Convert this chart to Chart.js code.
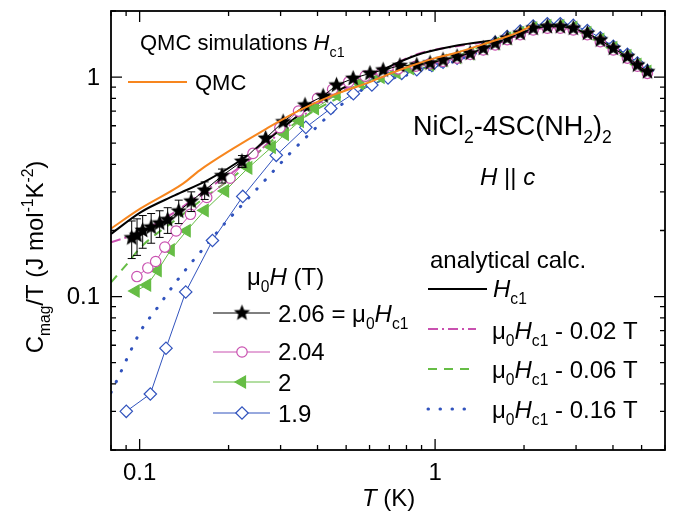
<!DOCTYPE html>
<html>
<head>
<meta charset="utf-8">
<title>NiCl2-4SC(NH2)2 magnetic specific heat</title>
<script src="https://cdn.jsdelivr.net/npm/chart.js@4.4.1/dist/chart.umd.min.js"></script>
<style>
  html, body { margin: 0; padding: 0; background: #fff; }
  canvas { display: block; }
</style>
</head>
<body>
<canvas id="chart" width="679" height="522"></canvas>
<script>
// measured C_mag/T, field mu0H in T
const t206 = [0.094, 0.098, 0.1024, 0.1094, 0.1169, 0.1244, 0.1356, 0.1495, 0.166, 0.190, 0.222, 0.267, 0.306, 0.363, 0.418, 0.464, 0.528, 0.602, 0.667, 0.76, 0.867, 0.962, 1.064, 1.187, 1.314, 1.455, 1.597, 1.754, 1.941, 2.148, 2.398, 2.653, 2.936, 3.275, 3.624, 4.01, 4.476, 4.84, 5.23];
const c206 = [0.185, 0.19, 0.2, 0.207, 0.216, 0.224, 0.245, 0.272, 0.305, 0.355, 0.413, 0.526, 0.625, 0.745, 0.819, 0.919, 0.986, 1.04, 1.076, 1.128, 1.134, 1.158, 1.196, 1.238, 1.283, 1.352, 1.426, 1.502, 1.583, 1.669, 1.697, 1.697, 1.669, 1.583, 1.475, 1.352, 1.238, 1.134, 1.057];
const err206 = [0.036, 0.036, 0.034, 0.032, 0.03, 0.03, 0.03, 0.028, 0.028, 0.026, 0.026];

const t204 = [0.0979, 0.1066, 0.1133, 0.1217, 0.1329, 0.1486, 0.1687, 0.2023, 0.2419, 0.2983, 0.345, 0.40, 0.45, 0.51, 0.58, 0.66, 0.75, 0.86, 0.96, 1.064, 1.187, 1.314, 1.455, 1.597, 1.754, 1.941, 2.148, 2.398, 2.653, 2.936, 3.275, 3.624, 4.01, 4.476, 4.84, 5.23];
const c204 = [0.1234, 0.135, 0.1445, 0.168, 0.199, 0.237, 0.283, 0.346, 0.449, 0.588, 0.70, 0.80, 0.88, 0.95, 1.01, 1.05, 1.09, 1.12, 1.15, 1.18, 1.22, 1.27, 1.33, 1.40, 1.48, 1.56, 1.64, 1.67, 1.67, 1.64, 1.56, 1.45, 1.33, 1.22, 1.12, 1.04];

const t200 = [0.0969, 0.106, 0.1151, 0.1274, 0.1443, 0.166, 0.1946, 0.2332, 0.280, 0.31, 0.3486, 0.392, 0.464, 0.557, 0.654, 0.74, 0.823, 0.96, 1.064, 1.187, 1.314, 1.455, 1.597, 1.754, 1.941, 2.148, 2.398, 2.653, 2.936, 3.275, 3.624, 4.01, 4.476, 4.84, 5.23];
const c200 = [0.106, 0.1129, 0.1315, 0.163, 0.1995, 0.247, 0.303, 0.386, 0.48, 0.55, 0.63, 0.72, 0.83, 0.936, 1.0, 1.05, 1.095, 1.14, 1.19, 1.23, 1.28, 1.35, 1.42, 1.50, 1.59, 1.67, 1.71, 1.71, 1.68, 1.59, 1.48, 1.36, 1.25, 1.14, 1.06];

const t190 = [0.0901, 0.1087, 0.1228, 0.1432, 0.1764, 0.2234, 0.290, 0.3652, 0.4437, 0.529, 0.611, 0.693, 0.771, 0.867, 0.975, 1.064, 1.187, 1.314, 1.455, 1.597, 1.754, 1.941, 2.148, 2.398, 2.653, 2.936, 3.275, 3.624, 4.01, 4.476, 4.84, 5.23];
const c190 = [0.030, 0.036, 0.0582, 0.105, 0.180, 0.286, 0.44, 0.59, 0.72, 0.84, 0.92, 0.99, 1.04, 1.08, 1.13, 1.17, 1.22, 1.28, 1.35, 1.44, 1.53, 1.62, 1.71, 1.75, 1.75, 1.72, 1.63, 1.51, 1.38, 1.27, 1.16, 1.07];

// QMC simulation at Hc1
const tQmc = [0.08, 0.1008, 0.1402, 0.1597, 0.207, 0.269, 0.3486, 0.4517, 0.585, 0.722, 0.822, 1.0, 1.155, 1.5, 1.94, 2.09];
const cQmc = [0.204, 0.252, 0.327, 0.376, 0.472, 0.583, 0.707, 0.828, 0.936, 1.05, 1.12, 1.22, 1.28, 1.43, 1.61, 1.70];

// analytical calculations
const tCalc0 = [0.08, 0.101, 0.1314, 0.170, 0.2198, 0.2717, 0.377, 0.51, 0.588, 0.868, 1.215, 1.45, 1.754, 2.0, 2.4, 2.9, 3.6, 4.5, 5.3];
const cCalc0 = [0.193, 0.2426, 0.289, 0.339, 0.418, 0.52, 0.73, 0.92, 1.0, 1.26, 1.40, 1.45, 1.50, 1.59, 1.70, 1.67, 1.48, 1.24, 1.05];
const tCalc02 = [0.08, 0.1008, 0.1314, 0.170, 0.227, 0.30, 0.40, 0.51, 0.60, 0.868, 1.215, 1.45, 1.754, 2.0, 2.4, 2.9, 3.6, 4.5, 5.3];
const cCalc02 = [0.1766, 0.197, 0.2426, 0.31, 0.404, 0.56, 0.74, 0.90, 1.0, 1.27, 1.39, 1.44, 1.49, 1.58, 1.69, 1.66, 1.47, 1.23, 1.04];
const tCalc06 = [0.08, 0.0911, 0.101, 0.1314, 0.170, 0.22, 0.25, 0.29, 0.377, 0.45, 0.543, 0.668, 0.868, 1.2, 1.5, 1.754, 2.0, 2.4, 2.9, 3.6, 4.5, 5.3];
const cCalc06 = [0.116, 0.142, 0.168, 0.222, 0.289, 0.375, 0.448, 0.532, 0.683, 0.78, 0.872, 0.969, 1.076, 1.22, 1.37, 1.49, 1.59, 1.70, 1.67, 1.48, 1.24, 1.05];
const tCalc16 = [0.08, 0.0855, 0.0911, 0.101, 0.1151, 0.1311, 0.1489, 0.166, 0.1916, 0.227, 0.269, 0.318, 0.382, 0.458, 0.543, 0.62, 0.8, 1.0, 1.3, 1.7, 2.0, 2.4, 2.9, 3.6, 4.5, 5.3];
const cCalc16 = [0.0365, 0.044, 0.053, 0.070, 0.0893, 0.114, 0.1415, 0.168, 0.211, 0.27, 0.345, 0.44, 0.563, 0.707, 0.843, 0.936, 1.02, 1.10, 1.25, 1.44, 1.59, 1.71, 1.69, 1.50, 1.25, 1.06];

const xTickLabels = [0.1, 1];
const yTickLabels = [0.1, 1];

const FONT = '"Liberation Sans", Arial, Helvetica, sans-serif';
const ORANGE = '#f7861e';
const MAGENTA = '#c951b0';
const GREEN = '#66bd45';
const BLUE = '#3153bd';

const pts = (xs, ys) => xs.map((x, i) => ({ x: x, y: ys[i] }));

function starImage(r, color) {
    const c = document.createElement('canvas');
    const s = Math.ceil(r * 2 + 2);
    c.width = c.height = s;
    const g = c.getContext('2d');
    g.fillStyle = color;
    g.beginPath();
    for (let i = 0; i < 10; i++) {
        const a = -Math.PI / 2 + i * Math.PI / 5;
        const rr = i % 2 ? r * 0.45 : r;
        g.lineTo(s / 2 + rr * Math.cos(a), s / 2 + rr * Math.sin(a));
    }
    g.closePath();
    g.fill();
    return c;
}
const star = starImage(8.5, '#000');

// rich text: parts are [text, flags], flags: i = italic, b = subscript, p = superscript
function richWidth(ctx, parts, size) {
    let w = 0;
    parts.forEach(([t, f = '']) => {
        const small = f.includes('b') || f.includes('p');
        ctx.font = (f.includes('i') ? 'italic ' : '') + (small ? size * 0.65 : size) + 'px ' + FONT;
        w += ctx.measureText(t).width;
    });
    return w;
}
function rich(ctx, x, y, parts, size, align) {
    if (align === 'center') x -= richWidth(ctx, parts, size) / 2;
    ctx.textBaseline = 'alphabetic';
    ctx.textAlign = 'left';
    ctx.fillStyle = '#000';
    parts.forEach(([t, f = '']) => {
        const sub = f.includes('b'), sup = f.includes('p');
        ctx.font = (f.includes('i') ? 'italic ' : '') + (sub || sup ? size * 0.65 : size) + 'px ' + FONT;
        const dy = sub ? size * 0.3 : sup ? -size * 0.42 : 0;
        ctx.fillText(t, x, y + dy);
        x += ctx.measureText(t).width;
    });
}

function sample(ctx, x1, x2, y, color, width, dash, cap) {
    ctx.save();
    ctx.strokeStyle = color;
    ctx.lineWidth = width;
    ctx.setLineDash(dash || []);
    ctx.lineCap = cap || 'butt';
    ctx.beginPath();
    ctx.moveTo(x1, y);
    ctx.lineTo(x2, y);
    ctx.stroke();
    ctx.restore();
}

function marker(ctx, ds, x, y) {
    ctx.save();
    ctx.fillStyle = ds.pointBackgroundColor;
    ctx.strokeStyle = ds.pointBorderColor;
    ctx.lineWidth = ds.pointBorderWidth;
    Chart.helpers.drawPoint(ctx, {
        pointStyle: ds.pointStyle,
        radius: ds.pointRadius,
        rotation: ds.pointRotation || 0,
        borderWidth: ds.pointBorderWidth
    }, x, y);
    ctx.restore();
}

function logSteps(min, max) {
    const out = [];
    for (let e = Math.floor(Math.log10(min)); e <= Math.ceil(Math.log10(max)); e++) {
        for (let m = 1; m < 10; m++) {
            const v = m * Math.pow(10, e);
            if (v >= min * 0.999 && v <= max * 1.001) out.push({ v: v, major: m === 1 });
        }
    }
    return out;
}

const figure = {
    id: 'figure',
    afterDatasetsDraw(chart) {
        const ctx = chart.ctx, xs = chart.scales.x, ys = chart.scales.y;
        ctx.save();
        ctx.strokeStyle = '#000';
        ctx.lineWidth = 1;
        err206.forEach((e, i) => {
            const px = xs.getPixelForValue(t206[i]);
            const top = ys.getPixelForValue(c206[i] + e);
            const bot = ys.getPixelForValue(c206[i] - e);
            ctx.beginPath();
            ctx.moveTo(px, top); ctx.lineTo(px, bot);
            ctx.moveTo(px - 4, top); ctx.lineTo(px + 4, top);
            ctx.moveTo(px - 4, bot); ctx.lineTo(px + 4, bot);
            ctx.stroke();
        });
        ctx.restore();
    },
    afterDraw(chart) {
        const ctx = chart.ctx, a = chart.chartArea;
        const xs = chart.scales.x, ys = chart.scales.y;
        const dsets = chart.data.datasets;
        ctx.save();

        // frame with inward ticks on all four sides
        ctx.strokeStyle = '#000';
        ctx.lineWidth = 1.8;
        ctx.strokeRect(a.left, a.top, a.right - a.left, a.bottom - a.top);
        ctx.lineWidth = 1.3;
        ctx.beginPath();
        logSteps(xs.min, xs.max).forEach(t => {
            const px = xs.getPixelForValue(t.v), len = t.major ? 11 : 5;
            ctx.moveTo(px, a.bottom); ctx.lineTo(px, a.bottom - len);
            ctx.moveTo(px, a.top); ctx.lineTo(px, a.top + len);
        });
        logSteps(ys.min, ys.max).forEach(t => {
            const py = ys.getPixelForValue(t.v), len = t.major ? 11 : 5;
            ctx.moveTo(a.left, py); ctx.lineTo(a.left + len, py);
            ctx.moveTo(a.right, py); ctx.lineTo(a.right - len, py);
        });
        ctx.stroke();

        // tick labels
        ctx.fillStyle = '#000';
        ctx.font = '24px ' + FONT;
        ctx.textAlign = 'center';
        ctx.textBaseline = 'alphabetic';
        xTickLabels.forEach(v => ctx.fillText(String(v), xs.getPixelForValue(v), a.bottom + 30));
        ctx.textAlign = 'right';
        ctx.textBaseline = 'middle';
        yTickLabels.forEach(v => ctx.fillText(String(v), a.left - 11, ys.getPixelForValue(v) + 1));

        // axis titles
        rich(ctx, 362, 506, [['T', 'i'], [' (K)']], 24);
        ctx.save();
        ctx.translate(43, 257);
        ctx.rotate(-Math.PI / 2);
        rich(ctx, 0, 0, [['C'], ['mag', 'b'], ['/T (J mol'], ['-1', 'p'], ['K'], ['-2', 'p'], [')']], 24, 'center');
        ctx.restore();

        // annotations
        rich(ctx, 140, 50, [['QMC simulations '], ['H', 'i'], ['c1', 'b']], 22);
        sample(ctx, 128, 187, 82, ORANGE, 2);
        rich(ctx, 195, 90, [['QMC']], 22);
        rich(ctx, 413, 135, [['NiCl'], ['2', 'b'], ['-4SC(NH'], ['2', 'b'], [')'], ['2', 'b']], 27);
        rich(ctx, 480, 185, [['H', 'i'], [' || '], ['c', 'i']], 24);

        // measured data legend
        rich(ctx, 247, 285, [['\u03bc'], ['0', 'b'], ['H', 'i'], [' (T)']], 24);
        const leg = [
            [1, 313, 322, [['2.06 = \u03bc'], ['0', 'b'], ['H', 'i'], ['c1', 'b']]],
            [2, 352, 360, [['2.04']]],
            [3, 382, 391, [['2']]],
            [4, 413, 422, [['1.9']]]
        ];
        leg.forEach(([k, ly, by, parts]) => {
            const ds = dsets[k];
            sample(ctx, 213, 270, ly, ds.borderColor, 1);
            marker(ctx, ds, 242, ly);
            rich(ctx, 278, by, parts, 24);
        });

        // analytical legend
        rich(ctx, 430, 268, [['analytical calc.']], 24);
        sample(ctx, 428, 487, 289, '#000', 2);
        rich(ctx, 493, 297, [['H', 'i'], ['c1', 'b']], 24);
        const calc = [
            [6, 329, 339, '0.02'],
            [7, 369, 378, '0.06'],
            [8, 409, 418, '0.16']
        ];
        calc.forEach(([k, ly, by, d]) => {
            const ds = dsets[k];
            sample(ctx, 428, 476, ly, ds.borderColor, ds.borderWidth, ds.borderDash, ds.borderCapStyle);
            rich(ctx, 492, by, [['\u03bc'], ['0', 'b'], ['H', 'i'], ['c1', 'b'], [' - ' + d + ' T']], 24);
        });
        ctx.restore();
    }
};

const dataLine = (data, color, style, radius, fill, rot) => ({
    data: data,
    borderColor: color,
    borderWidth: 1,
    pointStyle: style,
    pointRadius: radius,
    pointRotation: rot || 0,
    pointBackgroundColor: fill,
    pointBorderColor: color,
    pointBorderWidth: 1.2,
    tension: 0
});
const calcLine = (data, color, width, dash, cap) => ({
    data: data,
    borderColor: color,
    borderWidth: width,
    borderDash: dash,
    borderCapStyle: cap || 'butt',
    pointRadius: 0,
    cubicInterpolationMode: 'monotone'
});

new Chart(document.getElementById('chart'), {
    type: 'line',
    data: {
        datasets: [
            calcLine(pts(tQmc, cQmc), ORANGE, 2, []),
            dataLine(pts(t206, c206), '#000', star, 8, '#000'),
            dataLine(pts(t204, c204), MAGENTA, 'circle', 5.2, '#fff'),
            dataLine(pts(t200, c200), GREEN, 'triangle', 7, GREEN, -90),
            dataLine(pts(t190, c190), BLUE, 'rectRot', 6.2, '#fff'),
            calcLine(pts(tCalc0, cCalc0), '#000', 2, []),
            calcLine(pts(tCalc02, cCalc02), MAGENTA, 2, [10, 4, 2, 4]),
            calcLine(pts(tCalc06, cCalc06), GREEN, 2, [9, 7]),
            calcLine(pts(tCalc16, cCalc16), BLUE, 3, [0.5, 11.5], 'round')
        ]
    },
    options: {
        responsive: false,
        animation: false,
        layout: { padding: { left: 0, right: 14, top: 11, bottom: 0 } },
        plugins: { legend: { display: false }, tooltip: { enabled: false } },
        scales: {
            x: {
                type: 'logarithmic', min: 0.08, max: 6,
                grid: { display: false }, border: { display: false },
                ticks: { display: false },
                afterFit: s => { s.height = 72; }
            },
            y: {
                type: 'logarithmic', min: 0.02, max: 2,
                grid: { display: false }, border: { display: false },
                ticks: { display: false },
                afterFit: s => { s.width = 111; }
            }
        }
    },
    plugins: [figure]
});
</script>
</body>
</html>
